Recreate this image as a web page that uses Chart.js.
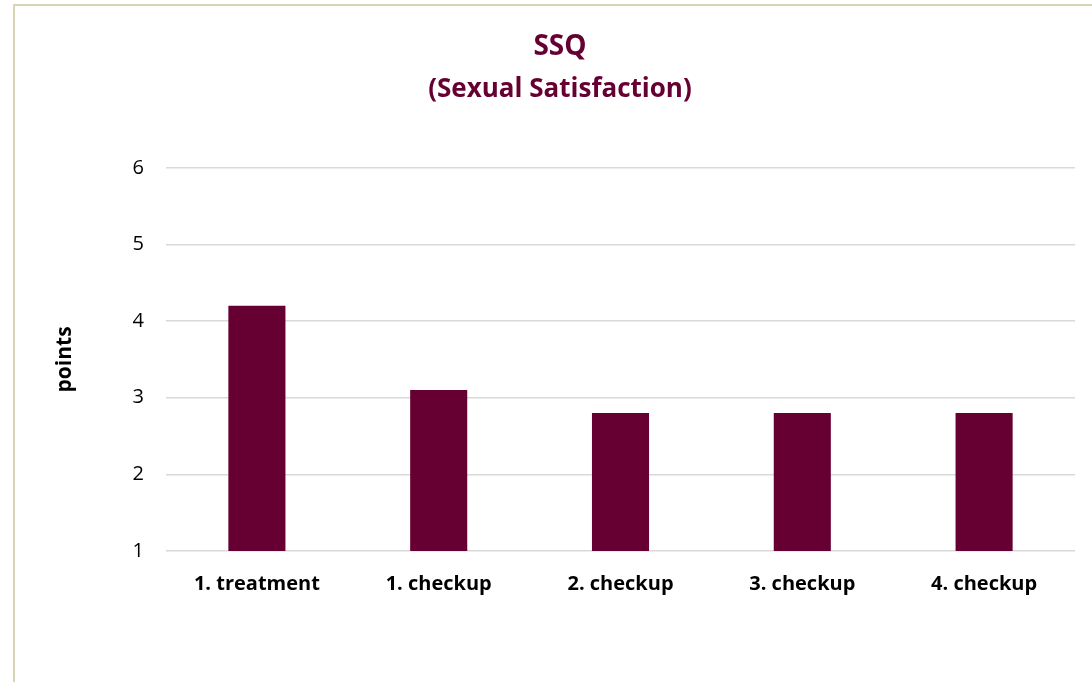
<!DOCTYPE html>
<html>
<head>
<meta charset="utf-8">
<title>SSQ</title>
<script src="https://cdn.jsdelivr.net/npm/chart.js@4"></script>
<style>
    html, body { margin: 0; padding: 0; background: #fff; overflow: hidden; }
    #frame {
        position: absolute; left: 13px; top: 4px;
        width: 1200px; height: 800px;
        border: 2px solid #d9d4b3;
    }
    #wrap { position: absolute; left: 0; top: 0; width: 1092px; height: 682px; }
</style>
</head>
<body>
<div id="frame"></div>
<div id="wrap"><canvas id="ssqChart"></canvas></div>
<script>
const categories = ['1. treatment', '1. checkup', '2. checkup', '3. checkup', '4. checkup'];
const scores = [4.2, 3.1, 2.8, 2.8, 2.8];
const yMin = 1;
const yMax = 6;

const MAROON = '#660033';
const FONT = "'Open Sans', sans-serif";

document.addEventListener('DOMContentLoaded', initChart);

function initChart() {
    const ctx = document.getElementById('ssqChart');

    new Chart(ctx, {
        type: 'bar',
        data: {
            labels: categories,
            datasets: [{
                label: 'SSQ',
                data: scores,
                backgroundColor: MAROON,
                borderWidth: 0,
                categoryPercentage: 1,
                barPercentage: 0.314
            }]
        },
        options: {
            responsive: true,
            maintainAspectRatio: false,
            animation: false,
            layout: { padding: { left: 45, right: 17, top: 10, bottom: 71 } },
            plugins: {
                legend: { display: false },
                tooltip: { enabled: false },
                title: {
                    display: true,
                    text: 'SSQ',
                    color: MAROON,
                    font: { family: FONT, size: 28, weight: 'bold' },
                    padding: { top: 20, bottom: 0 }
                },
                subtitle: {
                    display: true,
                    text: '(Sexual Satisfaction)',
                    color: MAROON,
                    font: { family: FONT, size: 26, weight: 'bold' },
                    padding: { top: 10, bottom: 63 }
                }
            },
            scales: {
                x: {
                    grid: { display: false },
                    border: { display: false },
                    ticks: {
                        color: '#000',
                        padding: 13,
                        font: { family: FONT, size: 20, weight: 'bold' }
                    },
                    afterFit: scale => { scale.height = 60; }
                },
                y: {
                    min: yMin,
                    max: yMax,
                    ticks: {
                        stepSize: 1,
                        color: '#000',
                        padding: 22,
                        font: { family: FONT, size: 20 }
                    },
                    grid: { color: '#d9d9d9', lineWidth: 1.5, drawTicks: false },
                    border: { display: false },
                    title: {
                        display: true,
                        text: 'points',
                        color: '#000',
                        padding: { top: 7, bottom: 0 },
                        font: { family: FONT, size: 21, weight: 'bold' }
                    },
                    afterFit: scale => { scale.width = 121; }
                }
            }
        }
    });
}
</script>
</body>
</html>
